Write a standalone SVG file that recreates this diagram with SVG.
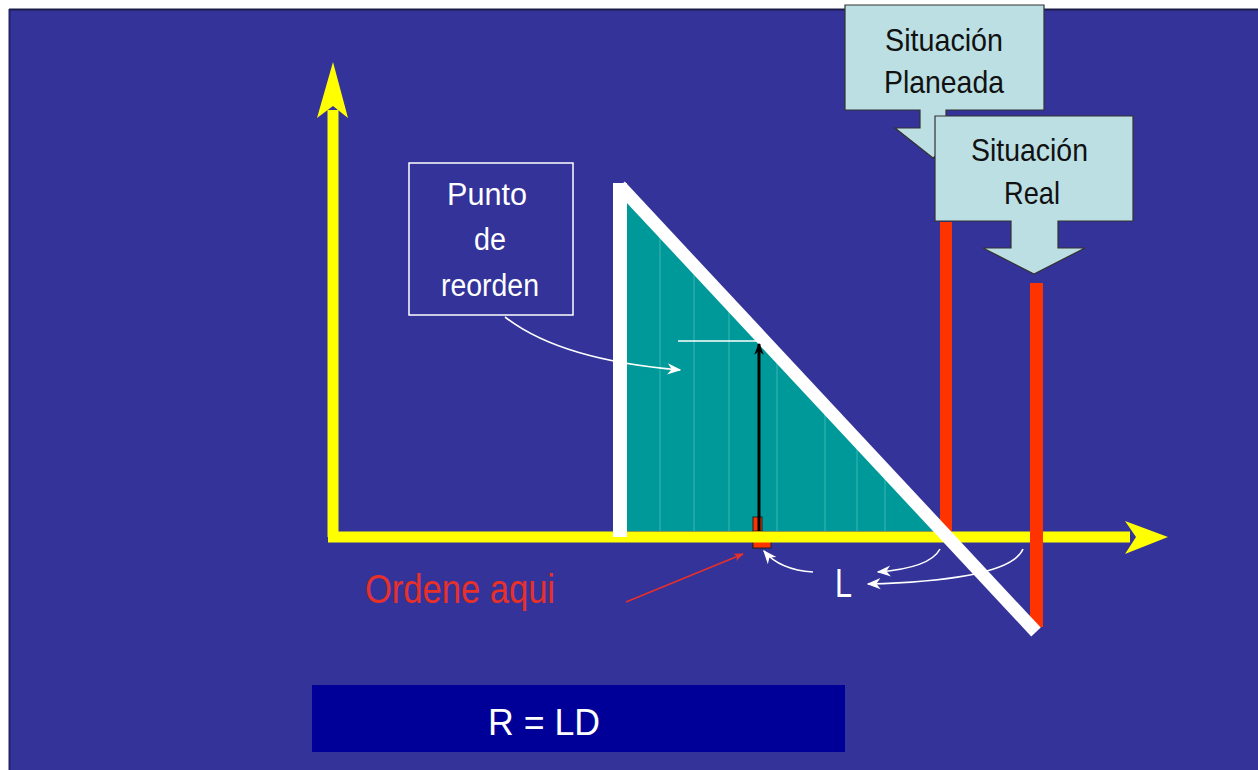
<svg xmlns="http://www.w3.org/2000/svg" width="1258" height="770" viewBox="0 0 1258 770">
<style>
.lbl{font-family:"Liberation Sans",Arial,sans-serif}
.blk{fill:#111;font-size:32px}
.wht{fill:#fff;font-size:31px}
.callout{fill:#bbdfe3;stroke:#333;stroke-width:1.2}
.wcurve{fill:none;stroke:#fff;stroke-width:1.6}
.vline{stroke:#3fb3b3;stroke-width:1}
</style>
<defs>
<marker id="wa2" viewBox="0 0 10 10" refX="9" refY="5" markerWidth="14" markerHeight="14" markerUnits="userSpaceOnUse" orient="auto"><path d="M0,1 L10,5 L0,9 L3,5 Z" fill="#fff"/></marker>
<marker id="ba" viewBox="0 0 10 10" refX="9" refY="5" markerWidth="14" markerHeight="12" markerUnits="userSpaceOnUse" orient="auto"><path d="M0,1 L10,5 L0,9 L3,5 Z" fill="#000"/></marker>
<marker id="ra" viewBox="0 0 10 10" refX="9" refY="5" markerWidth="12" markerHeight="10" markerUnits="userSpaceOnUse" orient="auto"><path d="M0,1 L10,5 L0,9 L3,5 Z" fill="#e8302a"/></marker>
</defs>
<rect x="0" y="0" width="1258" height="770" fill="#ffffff"/>
<rect x="9" y="9" width="1249" height="761" fill="#333399"/>
<line x1="9" y1="9.5" x2="1258" y2="9.5" stroke="#1c1c4a" stroke-width="2"/>
<line x1="9.5" y1="9" x2="9.5" y2="770" stroke="#22226a" stroke-width="2"/>

<g id="order-marker-base">
<rect x="753" y="517" width="9" height="31" fill="#ff3300" stroke="#222" stroke-width="1"/>
<rect x="753" y="538" width="18" height="10" fill="#ff3300" stroke="#222" stroke-width="1"/>
</g>

<g id="triangle">
<polygon points="627,193 627,531 937,531" fill="#009999"/>
<g class="vline">
<line x1="660" y1="230" x2="660" y2="531"/>
<line x1="694" y1="266" x2="694" y2="531"/>
<line x1="729" y1="304" x2="729" y2="531"/>
<line x1="777" y1="355" x2="777" y2="531"/>
<line x1="825" y1="408" x2="825" y2="531"/>
<line x1="857" y1="442" x2="857" y2="531"/>
<line x1="885" y1="473" x2="885" y2="531"/>
</g>
<line x1="678" y1="341" x2="758" y2="341" stroke="#fff" stroke-width="1.5"/>
</g>

<g id="order-marker">
<rect x="753" y="517" width="9" height="14" fill="#ff3300" stroke="#222" stroke-width="1"/>
</g>

<g id="axes">
<line x1="333" y1="110" x2="333" y2="537" stroke="#ffff00" stroke-width="11"/>
<polygon points="333,62 348,118 333,106 317,118" fill="#ffff00"/>
<line x1="328" y1="537" x2="1130" y2="537" stroke="#ffff00" stroke-width="11"/>
<polygon points="1168,537 1125,521 1136,537 1125,554" fill="#ffff00"/>
</g>

<g id="red-bars">
<rect x="940" y="222" width="12" height="309" fill="#ff3300"/>
<rect x="1030" y="283" width="13" height="344" fill="#ff3300"/>
</g>

<g id="white-lines">
<rect x="613" y="183" width="14" height="354" fill="#fff"/>
<line x1="620" y1="186" x2="1036" y2="632" stroke="#fff" stroke-width="13"/>
</g>

<g id="reorder-arrow">
<line x1="759" y1="531" x2="759" y2="344" stroke="#000" stroke-width="3" marker-end="url(#ba)"/>
</g>

<g id="callout-planeada">
<path class="callout" d="M845,5 H1044 V110 H946 V128 H971 L933,158 L895,128 H920 V110 H845 Z"/>
<text class="lbl blk" x="885" y="51" textLength="118" lengthAdjust="spacingAndGlyphs">Situación</text>
<text class="lbl blk" x="884" y="93" textLength="120" lengthAdjust="spacingAndGlyphs">Planeada</text>
</g>

<g id="callout-real">
<path class="callout" d="M935,116 H1133 V221 H1058 V248 H1085 L1034,274 L983,248 H1011 V221 H935 Z"/>
<text class="lbl blk" x="971" y="161" textLength="117" lengthAdjust="spacingAndGlyphs">Situación</text>
<text class="lbl blk" x="1004" y="204" textLength="56" lengthAdjust="spacingAndGlyphs">Real</text>
</g>

<g id="punto-reorden">
<rect x="409" y="163" width="164" height="152" fill="none" stroke="#fff" stroke-width="1.5"/>
<text class="lbl wht" x="447" y="205" textLength="80" lengthAdjust="spacingAndGlyphs">Punto</text>
<text class="lbl wht" x="474" y="250" textLength="32" lengthAdjust="spacingAndGlyphs">de</text>
<text class="lbl wht" x="441" y="296" textLength="98" lengthAdjust="spacingAndGlyphs">reorden</text>
</g>

<g id="ordene-aqui">
<text class="lbl" x="365" y="603" font-size="40" fill="#e8302a" textLength="190" lengthAdjust="spacingAndGlyphs">Ordene aqui</text>
</g>

<g id="L-label">
<text class="lbl" x="835" y="597" font-size="40" fill="#fff" textLength="17" lengthAdjust="spacingAndGlyphs">L</text>
</g>

<g id="R-LD">
<rect x="312" y="685" width="533" height="67" fill="#000099"/>
<text class="lbl" x="488" y="735" font-size="37" fill="#fff" textLength="112" lengthAdjust="spacingAndGlyphs">R = LD</text>
</g>

<g id="connectors">
<path class="wcurve" d="M505,317 Q560,360 680,370" marker-end="url(#wa2)"/>
<path d="M626,602 L743,554" stroke="#e8302a" stroke-width="1.5" fill="none" marker-end="url(#ra)"/>
<path class="wcurve" d="M813,572 Q780,570 764,551" marker-end="url(#wa2)"/>
<path class="wcurve" d="M940,549 Q930,568 878,572" marker-end="url(#wa2)"/>
<path class="wcurve" d="M1023,549 Q1010,580 868,584" marker-end="url(#wa2)"/>
</g>
</svg>
